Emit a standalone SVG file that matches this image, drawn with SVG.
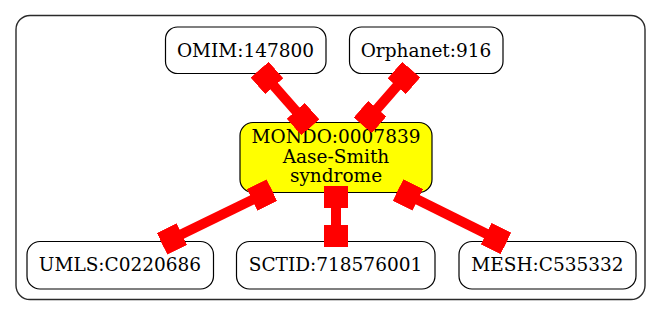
<svg xmlns="http://www.w3.org/2000/svg" width="661" height="316" viewBox="0 0 661 316">
  <style>
    .cluster { fill: #ffffff; stroke: #2a2a2a; stroke-width: 1.4; }
    .node rect { fill: #ffffff; stroke: #000000; stroke-width: 1.2; }
    .node.focus rect { fill: #ffff00; }
    .node text { font-family: "DejaVu Serif", "Liberation Serif", serif; font-size: 18.5px; fill: #000000; text-anchor: middle; }
    .edge { stroke: #ff0000; stroke-width: 10; fill: none; marker-start: url(#box); marker-end: url(#box); }
  </style>
  <defs>
    <!-- square end cap used at both ends of every connector -->
    <marker id="box" viewBox="0 0 22 24" refX="22" refY="12" markerWidth="22" markerHeight="24" markerUnits="userSpaceOnUse" orient="auto-start-reverse">
      <rect x="0" y="0" width="22" height="24" fill="#ff0000"/>
    </marker>
  </defs>

  <rect class="cluster" x="16" y="15.5" width="629" height="284" rx="14" ry="14"/>

  <g id="OMIM_147800" class="node">
    <rect x="165.5" y="27" width="160.5" height="46.5" rx="12" ry="12"/>
    <text x="245.5" y="56.5">OMIM:147800</text>
  </g>
  <g id="Orphanet_916" class="node">
    <rect x="349.5" y="27" width="153.5" height="46.5" rx="12" ry="12"/>
    <text x="426" y="56.5">Orphanet:916</text>
  </g>
  <g id="MONDO_0007839" class="node focus">
    <rect x="240" y="122.5" width="192" height="70" rx="13" ry="13"/>
    <text x="336" y="142.5">MONDO:0007839</text>
    <text x="336" y="162.5">Aase-Smith</text>
    <text x="336" y="182">syndrome</text>
  </g>
  <g id="UMLS_C0220686" class="node">
    <rect x="27" y="241.5" width="186.5" height="47.5" rx="13" ry="13"/>
    <text x="120" y="270.5">UMLS:C0220686</text>
  </g>
  <g id="SCTID_718576001" class="node">
    <rect x="236.5" y="241.5" width="198.5" height="47.5" rx="13" ry="13"/>
    <text x="335.5" y="270.5">SCTID:718576001</text>
  </g>
  <g id="MESH_C535332" class="node">
    <rect x="459" y="241.5" width="177" height="47.5" rx="13" ry="13"/>
    <text x="547.5" y="270.5">MESH:C535332</text>
  </g>

  <g id="edges">
    <line class="edge" x1="259.7" y1="69.7" x2="310.3" y2="127.3"/>
    <line class="edge" x1="411.2" y1="69.7" x2="362.8" y2="125.3"/>
    <line class="edge" x1="271.9" y1="190.2" x2="162.1" y2="243.8"/>
    <line class="edge" x1="336" y1="186" x2="336" y2="247"/>
    <line class="edge" x1="398.1" y1="190.1" x2="505.9" y2="243.4"/>
  </g>
</svg>
